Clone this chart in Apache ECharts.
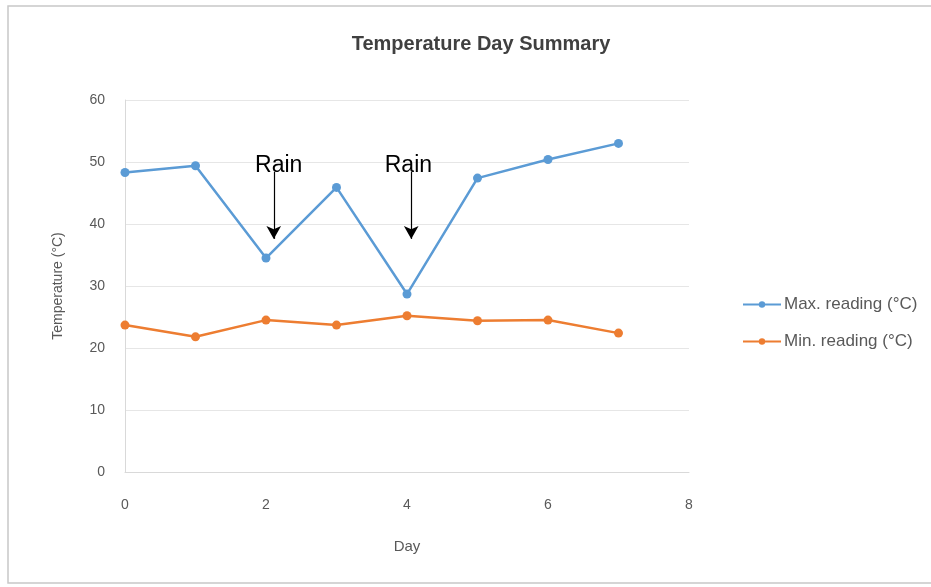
<!DOCTYPE html>
<html><head><meta charset="utf-8">
<script src="https://cdn.jsdelivr.net/npm/echarts@6/dist/echarts.min.js"></script>
<style>html,body{margin:0;padding:0;background:#fff}#c{width:931px;height:587px}</style>
</head><body><div id="c"></div>
<script>
const days = [0, 1, 2, 3, 4, 5, 6, 7];
const maxReading = [48.3, 49.4, 34.5, 45.9, 28.7, 47.4, 50.4, 53.0];
const minReading = [23.7, 21.8, 24.5, 23.7, 25.2, 24.4, 24.5, 22.4];
const seriesNames = ['Max. reading (°C)', 'Min. reading (°C)'];
const rainArrowDays = [2.11, 4.06];
const rainTextDays = [2.18, 4.02];
const rainLabel = 'Rain';

const font = 'Liberation Sans, Arial, sans-serif';
const chart = echarts.init(document.getElementById('c'), null, {renderer: 'canvas'});
const pairs = arr => days.map((d, i) => [d, arr[i]]);

chart.setOption({
  animation: false,
  backgroundColor: '#fff',
  title: {
    text: 'Temperature Day Summary', left: 476, top: 29, textAlign: 'center',
    textStyle: {fontFamily: font, fontSize: 20, fontWeight: 'bold', color: '#404040'}
  },
  graphic: [{
    type: 'rect', shape: {x: 8, y: 6, width: 940, height: 577},
    style: {fill: 'none', stroke: '#c8c8c8', lineWidth: 1.5}, silent: true
  }],
  legend: {
    orient: 'vertical', left: 742, top: 296, itemGap: 20, padding: 0,
    itemWidth: 38, itemHeight: 8,
    textStyle: {fontFamily: font, fontSize: 17, color: '#595959', padding: [0, 0, 0, -2]},
    data: seriesNames
  },
  grid: {left: 125, right: 242, top: 100, bottom: 115, containLabel: false},
  xAxis: {
    type: 'value', min: 0, max: 8, interval: 2,
    name: 'Day', nameLocation: 'middle', nameGap: 67,
    nameTextStyle: {fontFamily: font, fontSize: 15, color: '#595959'},
    axisLine: {show: true, lineStyle: {color: '#d9d9d9', width: 1}},
    axisTick: {show: false},
    splitLine: {show: false},
    axisLabel: {fontFamily: font, fontSize: 14, color: '#595959', margin: 26}
  },
  yAxis: {
    type: 'value', min: 0, max: 60, interval: 10,
    name: 'Temperature (°C)', nameLocation: 'middle', nameGap: 60, nameRotate: 90,
    nameTextStyle: {fontFamily: font, fontSize: 14, color: '#595959'},
    axisLine: {show: true, lineStyle: {color: '#d9d9d9', width: 1}},
    axisTick: {show: false},
    splitLine: {show: true, lineStyle: {color: '#e6e6e6', width: 1}},
    axisLabel: {fontFamily: font, fontSize: 14, color: '#595959', margin: 20}
  },
  series: [
    {
      name: seriesNames[0], type: 'line', data: pairs(maxReading),
      symbol: 'circle', symbolSize: 9,
      lineStyle: {color: '#5b9bd5', width: 2.5},
      itemStyle: {color: '#5b9bd5'},
      markLine: {
        silent: true, symbol: ['none', 'arrow'], symbolSize: [11, 13],
        lineStyle: {color: '#000', width: 1.2, type: 'solid'},
        label: {show: false},
        data: rainArrowDays.map(d => [{coord: [d, 48.4]}, {coord: [d, 37.6]}])
      },
      markPoint: {
        silent: true, symbol: 'circle', symbolSize: 0,
        label: {show: true, formatter: rainLabel, fontFamily: font, fontSize: 23, color: '#000', position: 'inside'},
        data: rainTextDays.map(d => ({coord: [d, 49.4]}))
      }
    },
    {
      name: seriesNames[1], type: 'line', data: pairs(minReading),
      symbol: 'circle', symbolSize: 9,
      lineStyle: {color: '#ed7d31', width: 2.5},
      itemStyle: {color: '#ed7d31'}
    }
  ]
});
</script></body></html>
